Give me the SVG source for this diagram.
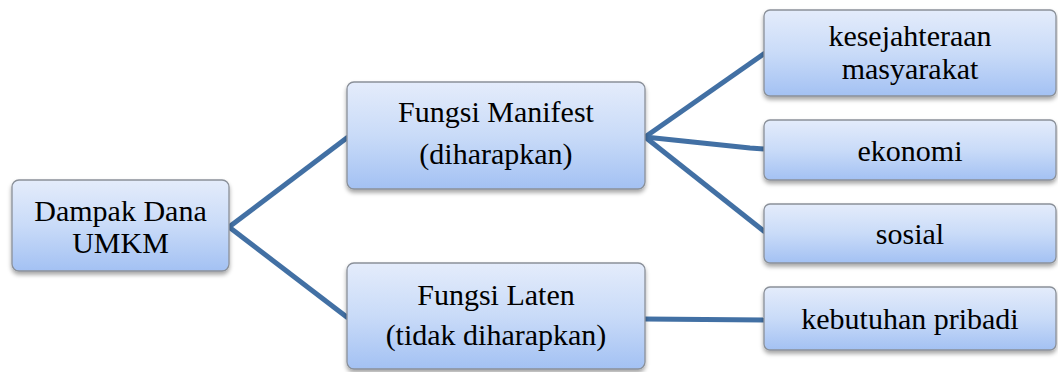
<svg xmlns="http://www.w3.org/2000/svg" width="1058" height="372" viewBox="0 0 1058 372">
<defs>
<linearGradient id="g" x1="0" y1="0" x2="0" y2="1">
<stop offset="0" stop-color="#e4ecfb"/>
<stop offset="0.5" stop-color="#c9dbf8"/>
<stop offset="1" stop-color="#a3c1f3"/>
</linearGradient>
<filter id="sh" x="-10%" y="-10%" width="120%" height="130%">
<feDropShadow dx="0" dy="3" stdDeviation="2" flood-color="#000" flood-opacity="0.35"/>
</filter>
</defs>
<g id="connectors" fill="none" stroke="#4270a4" stroke-width="5">
<line x1="229" y1="227" x2="348" y2="137"/>
<line x1="229" y1="227" x2="348" y2="318"/>
<line x1="645" y1="137" x2="765" y2="53"/>
<polyline points="645,137 750,148 765,149"/>
<line x1="645" y1="137" x2="765" y2="232"/>
<line x1="645" y1="319" x2="765" y2="320"/>
</g>
<g id="root">
<rect x="12" y="180" width="217" height="91" rx="7" fill="url(#g)" stroke="#8a9099" stroke-width="1.3" filter="url(#sh)"/>
<text x="120.5" y="221" style="font-family:'Times New Roman','Liberation Serif',serif;font-size:30px" text-anchor="middle">Dampak Dana</text>
<text x="120.5" y="253" style="font-family:'Times New Roman','Liberation Serif',serif;font-size:30px" text-anchor="middle">UMKM</text>
</g>
<g id="manifest">
<rect x="347" y="82" width="298" height="107" rx="7" fill="url(#g)" stroke="#8a9099" stroke-width="1.3" filter="url(#sh)"/>
<text x="496" y="122" style="font-family:'Times New Roman','Liberation Serif',serif;font-size:30px" text-anchor="middle">Fungsi Manifest</text>
<text x="496" y="164" style="font-family:'Times New Roman','Liberation Serif',serif;font-size:30px" text-anchor="middle">(diharapkan)</text>
</g>
<g id="laten">
<rect x="347" y="263" width="298" height="106" rx="7" fill="url(#g)" stroke="#8a9099" stroke-width="1.3" filter="url(#sh)"/>
<text x="496" y="305" style="font-family:'Times New Roman','Liberation Serif',serif;font-size:30px" text-anchor="middle">Fungsi Laten</text>
<text x="496" y="345" style="font-family:'Times New Roman','Liberation Serif',serif;font-size:30px" text-anchor="middle">(tidak diharapkan)</text>
</g>
<g id="kesejahteraan">
<rect x="764" y="10" width="292" height="86" rx="6" fill="url(#g)" stroke="#8a9099" stroke-width="1.3" filter="url(#sh)"/>
<text x="910" y="46" style="font-family:'Times New Roman','Liberation Serif',serif;font-size:30px" text-anchor="middle">kesejahteraan</text>
<text x="910" y="79" style="font-family:'Times New Roman','Liberation Serif',serif;font-size:30px" text-anchor="middle">masyarakat</text>
</g>
<g id="ekonomi">
<rect x="764" y="120" width="292" height="60" rx="6" fill="url(#g)" stroke="#8a9099" stroke-width="1.3" filter="url(#sh)"/>
<text x="910" y="161" style="font-family:'Times New Roman','Liberation Serif',serif;font-size:30px" text-anchor="middle">ekonomi</text>
</g>
<g id="sosial">
<rect x="764" y="204" width="292" height="59" rx="6" fill="url(#g)" stroke="#8a9099" stroke-width="1.3" filter="url(#sh)"/>
<text x="910" y="244" style="font-family:'Times New Roman','Liberation Serif',serif;font-size:30px" text-anchor="middle">sosial</text>
</g>
<g id="kebutuhan">
<rect x="764" y="287" width="292" height="63" rx="6" fill="url(#g)" stroke="#8a9099" stroke-width="1.3" filter="url(#sh)"/>
<text x="910" y="329" style="font-family:'Times New Roman','Liberation Serif',serif;font-size:30px" text-anchor="middle">kebutuhan pribadi</text>
</g>
</svg>
